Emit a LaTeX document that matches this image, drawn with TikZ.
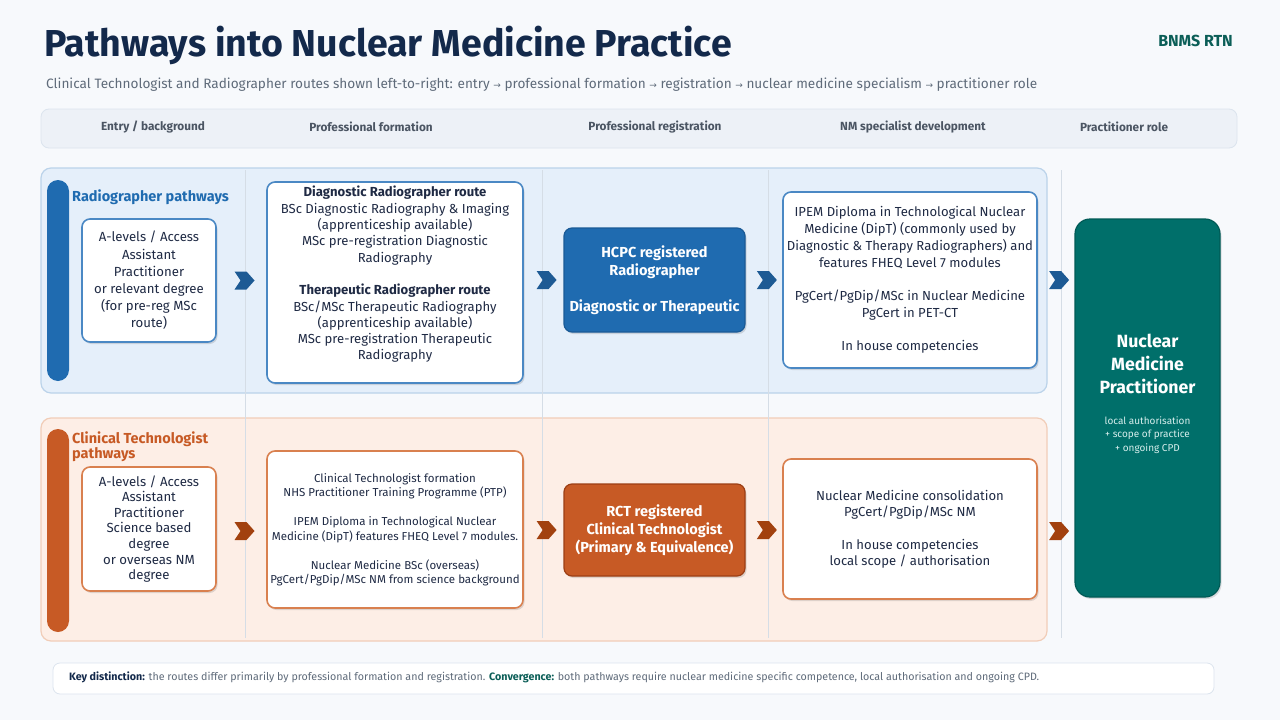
\documentclass[tikz,border=0pt]{standalone}
\usepackage{fontspec}
\setmainfont{Fira Sans}
\newfontfamily\dejavu{DejaVu Sans}
\usetikzlibrary{shadows,decorations.markings,calc}
\definecolor{pagebg}{HTML}{F7F9FC}
\definecolor{navy}{HTML}{13294B}
\definecolor{subgray}{HTML}{5F6B7A}
\definecolor{hdrfill}{HTML}{EDF1F7}
\definecolor{hdrline}{HTML}{DCE4EE}
\definecolor{hdrtext}{HTML}{4B5563}
\definecolor{bluelane}{HTML}{E5EFFA}
\definecolor{bluelaneline}{HTML}{BBD3EA}
\definecolor{bluemain}{HTML}{1F6BB0}
\definecolor{blueborder}{HTML}{4A88C4}
\definecolor{bluedark}{HTML}{1A5A96}
\definecolor{chevblue}{HTML}{1D5A94}
\definecolor{orlane}{HTML}{FDEEE6}
\definecolor{orlaneline}{HTML}{F1CDB8}
\definecolor{ormain}{HTML}{C75A25}
\definecolor{orborder}{HTML}{D9804F}
\definecolor{ordark}{HTML}{9C3E14}
\definecolor{chevor}{HTML}{A2410F}
\definecolor{teal}{HTML}{006F6A}
\definecolor{tealdark}{HTML}{005A56}
\definecolor{tealtext}{HTML}{0B5E57}
\definecolor{boxtext}{HTML}{1F2A44}
\definecolor{divider}{HTML}{D5DDE6}
\definecolor{smalltext}{HTML}{D6EEEC}
\begin{document}
\begin{tikzpicture}[x=1pt,y=-1pt,
  shad/.style={drop shadow={shadow xshift=1.5pt,shadow yshift=-2pt,opacity=0.12,fill=black}},
  wbox/.style={draw=#1,line width=1.6pt,fill=white,rounded corners=8pt,shad,inner sep=0pt},
  fbox/.style={draw=#1,line width=1.2pt,rounded corners=8pt,shad,inner sep=0pt},
  txt/.style={align=center,text=boxtext,inner sep=0pt},
  hdr/.style={font=\fontsize{11.8}{13}\selectfont\bfseries,text=hdrtext},
  chev/.style={decoration={markings,mark=at position 0.5 with {\fill[#1] (-7,-9) -- (5,-9) -- (13,0) -- (5,9) -- (-7,9) -- (-1,0) -- cycle;}},postaction={decorate}},
]
\useasboundingbox[fill=pagebg] (0,0) rectangle (1280,720);

% title and subtitle
\node[anchor=base west,inner sep=0pt,font=\fontsize{37.5}{42}\selectfont\bfseries,text=navy] (title) at (44,56) {Pathways into Nuclear Medicine Practice};
\node[anchor=base east,inner sep=0pt,font=\fontsize{16}{18}\selectfont\bfseries,text=tealtext] (brand) at (1233,46) {BNMS RTN};
\node[anchor=base west,inner sep=0pt,font=\fontsize{13.6}{15}\selectfont,text=subgray] (subtitle) at (46,88) {Clinical Technologist and Radiographer routes shown left-to-right: entry {\dejavu\fontsize{9}{10}\selectfont →} professional formation {\dejavu\fontsize{9}{10}\selectfont →} registration {\dejavu\fontsize{9}{10}\selectfont →} nuclear medicine specialism {\dejavu\fontsize{9}{10}\selectfont →} practitioner role};

% header band
\draw[fill=hdrfill,draw=hdrline,line width=0.8pt,rounded corners=8pt] (41,109) rectangle (1237,148);
\node[hdr] (h1) at (153,127) {Entry / background};
\node[hdr] (h2) at (371,127) {Professional formation};
\node[hdr] (h3) at (655,127) {Professional registration};
\node[hdr] (h4) at (913,127) {NM specialist development};
\node[hdr] (h5) at (1124,127) {Practitioner role};

% lanes
\draw[fill=bluelane,draw=bluelaneline,line width=1.2pt,rounded corners=10pt] (41,168) rectangle (1047,393);
\draw[fill=orlane,draw=orlaneline,line width=1.2pt,rounded corners=10pt] (41,418) rectangle (1047,641);

% dividers
\foreach \xx in {245,542,768,1061} \draw[divider,line width=0.8pt] (\xx,170) -- (\xx,638);

% lane bars and labels
\fill[bluemain,rounded corners=11pt] (47,180) rectangle (69,381);
\fill[ormain,rounded corners=11pt] (47,429) rectangle (69,632);
\node[anchor=base west,inner sep=0pt,font=\fontsize{14.5}{15}\selectfont\bfseries,text=bluemain] (lb1) at (72,201) {Radiographer pathways};
\node[anchor=north west,inner sep=0pt,align=left,font=\fontsize{14.5}{14.5}\selectfont\bfseries,text=ormain] (lb2) at (72,432) {Clinical Technologist\\pathways};

% ---------- Radiographer lane ----------
\node[wbox=blueborder,minimum width=134pt,minimum height=123pt] (e1) at (149,280.5) {};
\node[txt,font=\fontsize{13.2}{17.2}\selectfont] at (e1.center) {A-levels / Access\\Assistant\\Practitioner\\or relevant degree\\(for pre-reg MSc\\route)};

\node[wbox=blueborder,minimum width=256pt,minimum height=201pt] (f1) at (395,282.5) {};
\node[txt,font=\fontsize{13.1}{16.3}\selectfont] at ($(f1.center)+(0,-8)$) {\textbf{Diagnostic Radiographer route}\\BSc Diagnostic Radiography \& Imaging\\(apprenticeship available)\\MSc pre-registration Diagnostic\\Radiography\\[16.3pt]\textbf{Therapeutic Radiographer route}\\BSc/MSc Therapeutic Radiography\\(apprenticeship available)\\MSc pre-registration Therapeutic\\Radiography};

\node[fbox=bluedark,fill=bluemain,minimum width=181pt,minimum height=104pt] (r1) at (654.5,280) {};
\node[txt,text=white,font=\fontsize{14.5}{18}\selectfont\bfseries] at (r1.center) {HCPC registered\\Radiographer\\[18pt]Diagnostic or Therapeutic};

\node[wbox=blueborder,minimum width=254pt,minimum height=176pt] (n1) at (910,280) {};
\node[txt,font=\fontsize{13.1}{16.7}\selectfont] at (n1.center) {IPEM Diploma in Technological Nuclear\\Medicine (DipT) (commonly used by\\Diagnostic \& Therapy Radiographers) and\\features FHEQ Level 7 modules\\[16.7pt]PgCert/PgDip/MSc in Nuclear Medicine\\PgCert in PET-CT\\[16.7pt]In house competencies};

% ---------- Clinical Technologist lane ----------
\node[wbox=orborder,minimum width=134pt,minimum height=124pt] (e2) at (149,529) {};
\node[txt,font=\fontsize{13.2}{15.6}\selectfont] at (e2.center) {A-levels / Access\\Assistant\\Practitioner\\Science based\\degree\\or overseas NM\\degree};

\node[wbox=orborder,minimum width=256pt,minimum height=157pt] (f2) at (395,529.5) {};
\node[txt,font=\fontsize{11.5}{14.5}\selectfont] at (f2.center) {Clinical Technologist formation\\NHS Practitioner Training Programme (PTP)\\[14.5pt]IPEM Diploma in Technological Nuclear\\Medicine (DipT) features FHEQ Level 7 modules.\\[14.5pt]Nuclear Medicine BSc (overseas)\\PgCert/PgDip/MSc NM from science background};

\node[fbox=ordark,fill=ormain,minimum width=181pt,minimum height=92pt] (r2) at (654.5,530) {};
\node[txt,text=white,font=\fontsize{14.5}{18}\selectfont\bfseries] at (r2.center) {RCT registered\\Clinical Technologist\\(Primary \& Equivalence)};

\node[wbox=orborder,minimum width=254pt,minimum height=140pt] (n2) at (910,529) {};
\node[txt,font=\fontsize{13.1}{16.3}\selectfont] at (n2.center) {Nuclear Medicine consolidation\\PgCert/PgDip/MSc NM\\[16.3pt]In house competencies\\local scope / authorisation};

% ---------- Practitioner ----------
\node[fbox=tealdark,fill=teal,rounded corners=15pt,minimum width=145pt,minimum height=378pt] (prac) at (1147.5,408) {};
\node[txt,text=white,font=\fontsize{17.7}{23}\selectfont\bfseries] (pracT) at (1147.5,364) {Nuclear\\Medicine\\Practitioner};
\node[txt,text=smalltext,font=\fontsize{10}{13.5}\selectfont] (pracS) at (1147.5,435) {local authorisation\\+ scope of practice\\+ ongoing CPD};

% ---------- chevron connectors ----------
\path[chev=chevblue] (e1.east) -- (e1.east -| f1.west);
\path[chev=chevblue] (r1.west -| f1.east) -- (r1.west);
\path[chev=chevblue] (r1.east) -- (r1.east -| n1.west);
\path[chev=chevblue] (n1.east) -- (n1.east -| prac.west);
\path[chev=chevor] ($(e2.east)+(0,2)$) -- ($(e2.east -| f2.west)+(0,2)$);
\path[chev=chevor] (r2.west -| f2.east) -- (r2.west);
\path[chev=chevor] (r2.east) -- (r2.east -| n2.west);
\path[chev=chevor] ($(n2.east)+(0,2)$) -- ($(n2.east -| prac.west)+(0,2)$);

% footer
\draw[fill=white,draw=hdrline,line width=0.8pt,rounded corners=7pt] (53,663) rectangle (1214,694);
\node[anchor=west,inner sep=0pt,font=\fontsize{10.7}{12}\selectfont,text=subgray] (foot) at (69,677) {\textcolor{navy}{\bfseries Key distinction:} the routes differ primarily by professional formation and registration. \textcolor{tealtext}{\bfseries Convergence:} both pathways require nuclear medicine specific competence, local authorisation and ongoing CPD.};
\end{tikzpicture}
\end{document}
